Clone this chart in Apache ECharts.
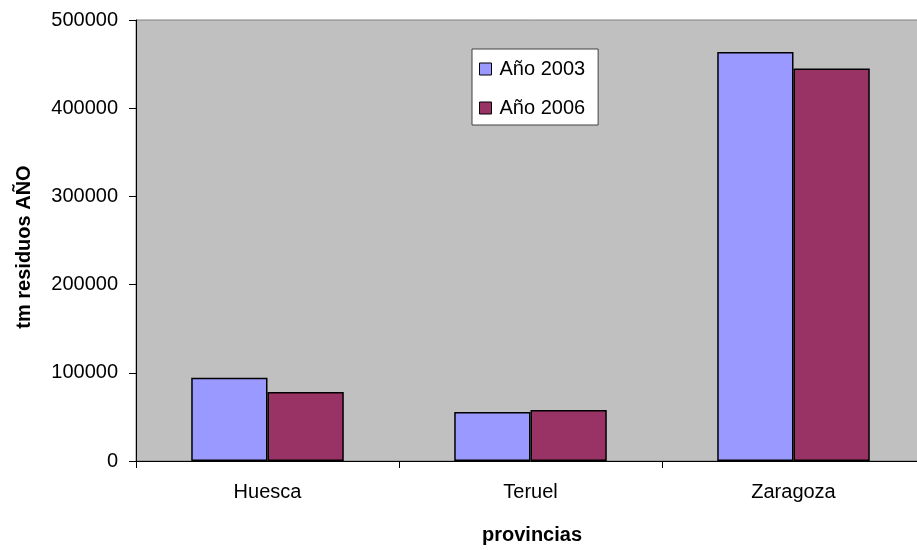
<!DOCTYPE html>
<html>
<head>
<meta charset="utf-8">
<style>
  html, body { margin: 0; padding: 0; background: #ffffff; overflow: hidden; width: 917px; height: 550px; }
  #chart { width: 925px; height: 550px; }
</style>
<script src="https://cdn.jsdelivr.net/npm/echarts@6/dist/echarts.min.js"></script>
</head>
<body>
<div id="chart"></div>
<script>
// Residuos por provincia (toneladas al año)
const provincias = ['Huesca', 'Teruel', 'Zaragoza'];
const anio2003 = [94400, 55500, 463800];
const anio2006 = [78200, 57800, 445000];
const yTicks = [0, 100000, 200000, 300000, 400000, 500000];

const FONT = 'Arial, "Liberation Sans", sans-serif';

// The plot area runs slightly past the right edge of the visible page
const chart = echarts.init(document.getElementById('chart'), null, { renderer: 'canvas' });

chart.setOption({
  animation: false,
  backgroundColor: '#ffffff',
  textStyle: { fontFamily: FONT },
  grid: {
    left: 136, right: 0, top: 20, bottom: 89,
    show: true,
    backgroundColor: '#c0c0c0',
    borderColor: '#808080',
    borderWidth: 1
  },
  legend: {
    data: ['Año 2003', 'Año 2006'],
    orient: 'vertical',
    left: 472, top: 49,
    padding: [10, 13, 7, 7],
    itemGap: 19,
    itemWidth: 12, itemHeight: 12,
    icon: 'rect',
    backgroundColor: '#ffffff',
    borderColor: '#404040',
    borderWidth: 1,
    borderRadius: 0,
    textStyle: { fontSize: 20, color: '#000000', fontFamily: FONT, padding: [0, 0, 0, 3] },
    itemStyle: { borderColor: '#000000', borderWidth: 1 }
  },
  xAxis: {
    type: 'category',
    data: provincias,
    name: 'provincias',
    nameLocation: 'middle',
    nameGap: 64,
    nameTextStyle: { fontSize: 20, fontWeight: 'bold', color: '#000000', fontFamily: FONT, padding: [0, 0, 0, 3] },
    axisLine: { show: true, lineStyle: { color: '#000000', width: 1 } },
    axisTick: { show: true, alignWithLabel: false, length: 7, lineStyle: { color: '#000000' } },
    axisLabel: { fontSize: 20, color: '#000000', margin: 21, fontFamily: FONT },
    splitLine: { show: false }
  },
  yAxis: {
    type: 'value',
    min: 0, max: 500000, interval: 100000,
    name: 'tm residuos AÑO',
    nameLocation: 'middle',
    nameGap: 102,
    nameTextStyle: { fontSize: 20, fontWeight: 'bold', color: '#000000', fontFamily: FONT, padding: [0, 13, 0, 0] },
    axisLine: { show: true, lineStyle: { color: '#000000', width: 1 } },
    axisTick: { show: true, length: 7, lineStyle: { color: '#000000' } },
    axisLabel: {
      fontSize: 20, color: '#000000', margin: 18, fontFamily: FONT,
      formatter: v => yTicks.includes(v) ? String(v) : ''
    },
    splitLine: { show: false }
  },
  series: [
    {
      name: 'Año 2003',
      type: 'bar',
      data: anio2003,
      barGap: '0%',
      barCategoryGap: '42%',
      itemStyle: { color: '#9999ff', borderColor: '#000000', borderWidth: 1.5 }
    },
    {
      name: 'Año 2006',
      type: 'bar',
      data: anio2006,
      barGap: '0%',
      barCategoryGap: '42%',
      itemStyle: { color: '#993366', borderColor: '#000000', borderWidth: 1.5 }
    }
  ]
});
</script>
</body>
</html>
